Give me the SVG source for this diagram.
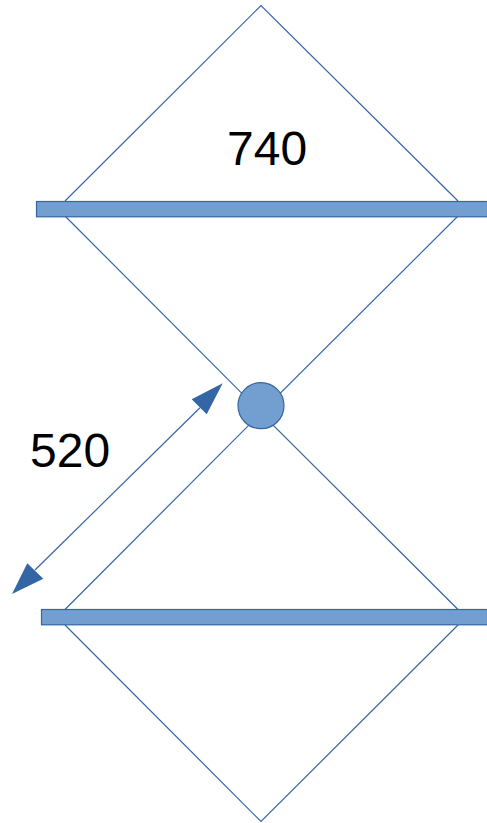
<svg xmlns="http://www.w3.org/2000/svg" width="487" height="823" viewBox="0 0 487 823">
<style>
.l{fill:none;stroke:#3465a4;stroke-width:1.2}
.b{fill:#729fcf;stroke:#3465a4;stroke-width:1.2}
.a{fill:#3465a4;stroke:none}
.t{font-family:"Liberation Sans",Arial,sans-serif;font-size:48px;fill:#000}
</style>
<g id="connectors">
<path class="l" d="M65 201L261 5.500L458 201"/>
<path class="l" d="M65 216L261 412.500L458 216"/>
<path class="l" d="M65 609.500L261 413L458 609.500"/>
<path class="l" d="M65 625L261 821.500L458 625"/>
<path class="l" d="M200 407.700L35 570"/>
</g>
<g id="arrows">
<path class="a" d="M222.700 383.300L191.700 399.300L206.700 414.300Z"/>
<path class="a" d="M12 594L27.300 563.300L43.300 578.700Z"/>
</g>
<g id="bar-top"><rect class="b" x="36.500" y="201.500" width="451" height="15.300"/></g>
<g id="bar-bottom"><rect class="b" x="41.500" y="609.500" width="446" height="15.300"/></g>
<g id="pivot"><circle class="b" cx="261" cy="405.700" r="23"/></g>
<g id="label-740"><text class="t" x="227" y="164.700">740</text></g>
<g id="label-520"><text class="t" x="30" y="466.500">520</text></g>
</svg>
